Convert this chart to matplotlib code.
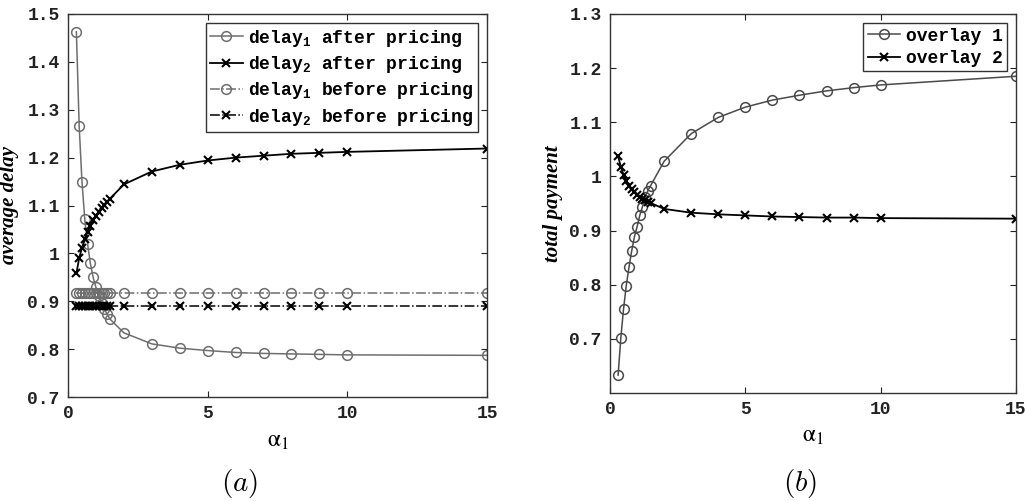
import numpy as np
import matplotlib
matplotlib.use('Agg')
import matplotlib.pyplot as plt

plt.rcParams['mathtext.fontset'] = 'custom'
plt.rcParams['mathtext.rm'] = 'Liberation Mono:bold'
plt.rcParams['mathtext.it'] = 'Liberation Mono:bold'
plt.rcParams['mathtext.bf'] = 'Liberation Mono:bold'

# alpha_1 values (same grid in both panels)
alpha1 = [0.3, 0.4, 0.5, 0.6, 0.7, 0.8, 0.9, 1.0, 1.1, 1.2, 1.3, 1.4, 1.5,
          2, 3, 4, 5, 6, 7, 8, 9, 10, 15]

# (a) average delay
delay1_after = [1.463, 1.266, 1.150, 1.072, 1.020, 0.979, 0.950, 0.929, 0.912,
                0.897, 0.884, 0.873, 0.863,
                0.834, 0.811, 0.802, 0.797, 0.793, 0.791, 0.790, 0.789, 0.788, 0.787]
delay2_after = [0.958, 0.990, 1.012, 1.030, 1.045, 1.058, 1.069, 1.078, 1.087,
                1.095, 1.102, 1.108, 1.114,
                1.144, 1.171, 1.185, 1.194, 1.200, 1.204, 1.208, 1.210, 1.212, 1.219]
delay1_before = [0.918] * 23
delay2_before = [0.890] * 23

# (b) total payment
overlay1 = [0.633, 0.702, 0.755, 0.798, 0.832, 0.862, 0.888, 0.907, 0.928,
            0.944, 0.962, 0.974, 0.983,
            1.028, 1.079, 1.109, 1.128, 1.141, 1.150, 1.158, 1.164, 1.169, 1.185]
overlay2 = [1.037, 1.018, 1.003, 0.992, 0.983, 0.976, 0.971, 0.966, 0.962,
            0.959, 0.956, 0.953, 0.951,
            0.940, 0.933, 0.930, 0.928, 0.926, 0.925, 0.924, 0.924, 0.923, 0.922]

W, H = 1025, 501
fig = plt.figure(figsize=(W / 100, H / 100), dpi=100)
ax1 = fig.add_axes([68 / W, 1 - 397 / H, 419 / W, 383 / H])
ax2 = fig.add_axes([610 / W, 1 - 393 / H, 406 / W, 379 / H])

gray = '#6e6e6e'
tickfont = dict(family='Liberation Mono', weight='bold', size=13)

# ---- panel (a)
ax1.plot(alpha1, delay1_after, '-o', color=gray, mfc='none', ms=7, mew=1.1, lw=1.1,
         label=r'delay$_1$ after pricing')
ax1.plot(alpha1, delay2_after, '-x', color='black', ms=6, mew=1.5, lw=1.3,
         label=r'delay$_2$ after pricing')
ax1.plot(alpha1, delay1_before, '-.o', color=gray, mfc='none', ms=7, mew=1.1, lw=1.1,
         label=r'delay$_1$ before pricing')
ax1.plot(alpha1, delay2_before, '-.x', color='black', ms=6, mew=1.5, lw=1.1,
         label=r'delay$_2$ before pricing')
ax1.set_xlim(0, 15)
ax1.set_ylim(0.7, 1.5)
ax1.set_yticks([0.7, 0.8, 0.9, 1.0, 1.1, 1.2, 1.3, 1.4, 1.5])
ax1.set_yticklabels(['0.7', '0.8', '0.9', '1', '1.1', '1.2', '1.3', '1.4', '1.5'])
ax1.set_ylabel('average delay', family='Liberation Serif', style='italic',
               weight='bold', fontsize=15)
ax1.yaxis.set_label_coords(-0.118, 0.5)

# ---- panel (b)
ax2.plot(alpha1, overlay1, '-o', color='#4a4a4a', mfc='none', ms=7, mew=1.1, lw=1.1,
         label='overlay 1')
ax2.plot(alpha1, overlay2, '-x', color='black', ms=6, mew=1.5, lw=1.3,
         label='overlay 2')
ax2.set_xlim(0, 15)
ax2.set_ylim(0.6, 1.3)
ax2.set_yticks([0.7, 0.8, 0.9, 1.0, 1.1, 1.2, 1.3])
ax2.set_yticklabels(['0.7', '0.8', '0.9', '1', '1.1', '1.2', '1.3'])
ax2.set_ylabel('total payment', family='Liberation Serif', style='italic',
               weight='bold', fontsize=15)
ax2.yaxis.set_label_coords(-0.115, 0.5)

for ax in (ax1, ax2):
    ax.set_xticks([0, 5, 10, 15])
    ax.set_xticklabels(['0', '5', '10', '15'])
    ax.tick_params(direction='in', top=True, right=True, length=4, width=0.8,
                   pad=6, colors='#222222')
    for lab in ax.get_xticklabels() + ax.get_yticklabels():
        lab.set_fontproperties(matplotlib.font_manager.FontProperties(**tickfont))
    for sp in ax.spines.values():
        sp.set_color('#333333')
        sp.set_linewidth(1.0)
    ax.set_xlabel(r'$\mathrm{\alpha}_{\mathit{1}}$', fontsize=17, math_fontfamily='stix')
    ax.xaxis.set_label_coords(0.5, -0.08)
    leg = ax.legend(loc='upper right', prop=dict(family='Liberation Mono', weight='bold', size=13),
                    fancybox=False, framealpha=1, edgecolor='#333333',
                    handlelength=1.8, handletextpad=0.3, labelspacing=0.3,
                    borderpad=0.25, borderaxespad=0.5)
    leg.get_frame().set_linewidth(1.0)

fig.text(240 / W, 1 - 484 / H, r'$(a)$', fontsize=21, math_fontfamily='cm',
         ha='center', va='center')
fig.text(800 / W, 1 - 484 / H, r'$(b)$', fontsize=21, math_fontfamily='cm',
         ha='center', va='center')

fig.savefig('out.png', dpi=100)
